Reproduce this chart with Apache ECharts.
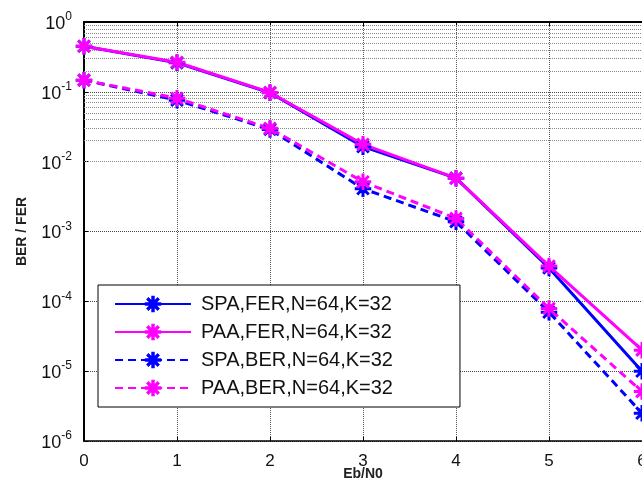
<!DOCTYPE html>
<html>
<head>
<meta charset="utf-8">
<script src="https://cdn.jsdelivr.net/npm/echarts@6/dist/echarts.min.js"></script>
<style>
html,body{margin:0;padding:0;background:#fff;}
#chart{width:642px;height:492px;}
</style>
</head>
<body>
<div id="chart"></div>
<script>
// ---- data ----
var ebn0 = [0, 1, 2, 3, 4, 5, 6];
var spaFer = [0.45, 0.26, 0.097, 0.0164, 0.0058, 3.0e-4, 1.0e-5];
var paaFer = [0.45, 0.265, 0.098, 0.0177, 0.0058, 3.2e-4, 2.0e-5];
var spaBer = [0.147, 0.076, 0.029, 0.0041, 0.00138, 7.0e-5, 2.5e-6];
var paaBer = [0.147, 0.081, 0.030, 0.00515, 0.00154, 7.9e-5, 5.1e-6];
var seriesNames = ['SPA,FER,N=64,K=32', 'PAA,FER,N=64,K=32', 'SPA,BER,N=64,K=32', 'PAA,BER,N=64,K=32'];
var xTicks = [0, 1, 2, 3, 4, 5, 6];
var yDecades = [-6, -5, -4, -3, -2, -1, 0];
var minorMultipliers = [2, 3, 4, 5, 6, 7, 8, 9];

var minorValues = [];
yDecades.slice(0, -1).forEach(function (e) {
  minorMultipliers.forEach(function (m) { minorValues.push(m * Math.pow(10, e)); });
});

var star = 'path://M9,0 L11,0 L11,20 L9,20 Z M0,9 L20,9 L20,11 L0,11 Z ' +
  'M2.3,3.7 L3.7,2.3 L17.7,16.3 L16.3,17.7 Z M16.3,2.3 L17.7,3.7 L3.7,17.7 L2.3,16.3 Z';

function zip(ys) { return ebn0.map(function (x, i) { return [x, ys[i]]; }); }

function mk(name, ys, color, dashed) {
  return {
    name: name, type: 'line', data: zip(ys),
    symbol: star, symbolSize: 15, showSymbol: true,
    lineStyle: { color: color, width: 3, type: dashed ? [8, 5] : 'solid' },
    itemStyle: { color: color, borderColor: color, borderWidth: 1.5 },
    z: 5, animation: false
  };
}

var font = '"Liberation Sans", Arial, sans-serif';
var chart = echarts.init(document.getElementById('chart'), null, { renderer: 'canvas' });
chart.setOption({
  backgroundColor: '#fff',
  animation: false,
  grid: { left: 84, right: 0, top: 22, bottom: 51, containLabel: false, outerBoundsMode: 'none' },
  xAxis: [{
    type: 'value', min: 0, max: 6, interval: 1,
    name: 'Eb/N0', nameLocation: 'middle', nameGap: 26, nameMoveOverlap: false,
    nameTextStyle: { fontFamily: font, fontWeight: 'bold', fontSize: 14, color: '#222' },
    axisLine: { lineStyle: { color: '#000', width: 1.5 } },
    axisTick: { inside: true, length: 4, lineStyle: { color: '#000' } },
    axisLabel: { fontFamily: font, fontSize: 17, color: '#111', margin: 12,
      formatter: function (v) { return xTicks.indexOf(v) >= 0 ? String(v) : ''; } },
    splitLine: { show: true, lineStyle: { color: '#555', type: 'dotted', width: 1 } }
  }, {
    type: 'value', min: 0, max: 6, interval: 1, position: 'top',
    axisLine: { lineStyle: { color: '#000', width: 2 } },
    axisTick: { inside: true, length: 4, lineStyle: { color: '#000' } },
    axisLabel: { show: false }, splitLine: { show: false }
  }],
  yAxis: [{
    type: 'log', logBase: 10, min: 1e-6, max: 1,
    name: 'BER / FER', nameLocation: 'middle', nameGap: 55, nameMoveOverlap: false,
    nameTextStyle: { fontFamily: font, fontWeight: 'bold', fontSize: 14, color: '#222' },
    axisLine: { show: true, lineStyle: { color: '#000', width: 2 } },
    axisTick: { inside: true, length: 4, lineStyle: { color: '#000' } },
    axisLabel: {
      margin: 12, fontFamily: font, color: '#111',
      formatter: function (v) {
        var e = Math.round(Math.log10(v));
        return '{b|10}{s|' + e + '}';
      },
      rich: {
        b: { fontSize: 18, fontFamily: font, color: '#111', verticalAlign: 'bottom' },
        s: { fontSize: 12, fontFamily: font, color: '#111', verticalAlign: 'bottom', padding: [0, 0, 10, 0] }
      }
    },
    splitLine: { show: true, lineStyle: { color: '#444', type: 'dotted', width: 1 } }
  }],
  legend: {
    orient: 'vertical', left: 98, top: 285,
    data: seriesNames,
    itemWidth: 76, itemHeight: 18, itemGap: 8,
    padding: [9, 67, 9, 16],
    backgroundColor: '#fff', borderColor: '#000', borderWidth: 1,
    textStyle: { fontFamily: font, fontSize: 20, color: '#111', padding: [0, 0, 0, 5] }
  },
  series: [
    {
      name: 'minor', type: 'line', data: [], z: 1, silent: true, animation: false,
      markLine: {
        silent: true, symbol: ['none', 'none'], animation: false,
        label: { show: false },
        lineStyle: { color: '#888', type: 'dotted', width: 1 },
        data: minorValues.map(function (v) { return { yAxis: v }; })
      }
    },
    mk(seriesNames[0], spaFer, '#0000ff', false),
    mk(seriesNames[1], paaFer, '#ff00ff', false),
    mk(seriesNames[2], spaBer, '#0000ff', true),
    mk(seriesNames[3], paaBer, '#ff00ff', true)
  ]
});
</script>
</body>
</html>
